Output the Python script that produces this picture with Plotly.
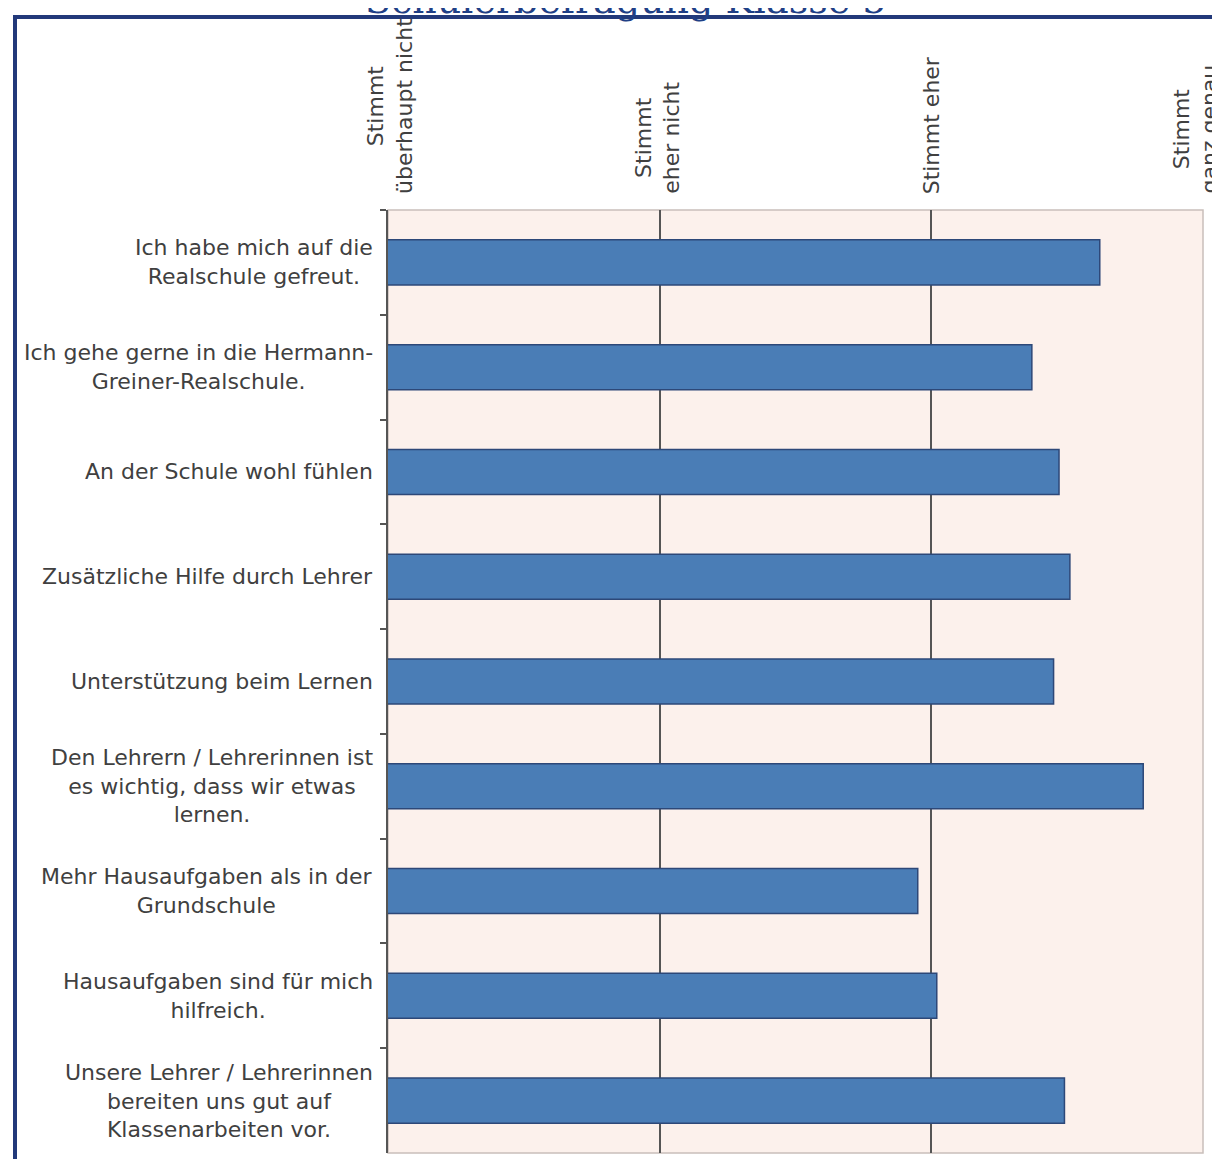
import plotly.graph_objects as go

title_text = "Schülerbefragung Klasse 5"

categories = [
    "Ich habe mich auf die<br>Realschule gefreut.",
    "Ich gehe gerne in die Hermann-<br>Greiner-Realschule.",
    "An der Schule wohl fühlen",
    "Zusätzliche Hilfe durch Lehrer",
    "Unterstützung beim Lernen",
    "Den Lehrern / Lehrerinnen ist<br>es wichtig, dass wir etwas<br>lernen.",
    "Mehr Hausaufgaben als in der<br>Grundschule",
    "Hausaufgaben sind für mich<br>hilfreich.",
    "Unsere Lehrer / Lehrerinnen<br>bereiten uns gut auf<br>Klassenarbeiten vor.",
]
values = [3.62, 3.37, 3.47, 3.51, 3.45, 3.78, 2.95, 3.02, 3.49]

scale_vals = [1, 2, 3, 4]
scale_labels = [
    "Stimmt<br>überhaupt nicht",
    "Stimmt<br>eher nicht",
    "Stimmt eher",
    "Stimmt<br>ganz genau",
]
scale_shift = [2, -2, 0, -8]

# page offset from default body margin
OFF = 8
W, H = 1212, 1151
# desired page coordinates of plot area
P_L, P_R, P_T, P_B = 388, 1203, 210, 1153
ML = P_L - OFF
MR = W - (P_R - OFF)
MT = P_T - OFF
MB = H - (P_B - OFF)
PW = W - ML - MR
PH = H - MT - MB

def px_x(px):
    return (px - P_L) / PW

def px_y(py):
    return (P_B - py) / PH

label_font = dict(family="DejaVu Sans", size=22, color="#404040")

fig = go.Figure()
fig.add_trace(go.Bar(
    x=values,
    y=categories,
    orientation="h",
    width=0.43,
    marker=dict(color="#4a7db6", line=dict(color="#2d4878", width=1.5)),
    showlegend=False,
))

annotations = []
for cat in categories:
    annotations.append(dict(
        x=px_x(375), xref="paper", y=cat, yref="y",
        text=cat, showarrow=False, xanchor="right", yanchor="middle",
        align="center", font=label_font,
    ))
for v, lab, sh in zip(scale_vals, scale_labels, scale_shift):
    annotations.append(dict(
        x=v, xref="x", y=px_y(196), yref="paper", xshift=sh,
        text=lab, showarrow=False, textangle=-90,
        xanchor="center", yanchor="bottom", align="center",
        font=label_font,
    ))
annotations.append(dict(
    x=px_x(625), xref="paper", y=px_y(0), yref="paper",
    text=title_text, showarrow=False, xanchor="center", yanchor="middle",
    font=dict(family="DejaVu Serif", size=38, color="#1f3f86"),
))

shapes = [
    dict(type="rect", xref="paper", yref="paper",
         x0=0, x1=1, y0=0, y1=1,
         line=dict(color="#c9bfba", width=1.5), layer="below"),
    dict(type="rect", xref="paper", yref="paper",
         x0=px_x(15), x1=px_x(1240), y0=px_y(1180), y1=px_y(17),
         line=dict(color="#22397a", width=4), layer="above"),
]

fig.update_layout(
    width=W, height=H,
    margin=dict(l=ML, r=MR, t=MT, b=MB),
    paper_bgcolor="white",
    plot_bgcolor="#fcf1ec",
    annotations=annotations,
    shapes=shapes,
    xaxis=dict(
        range=[1, 4], tickvals=[2, 3], showticklabels=False,
        showgrid=True, gridcolor="#555555", gridwidth=1.5,
        zeroline=False, showline=False, ticks="", fixedrange=True,
    ),
    yaxis=dict(
        autorange="reversed", showticklabels=False,
        showgrid=False, zeroline=False,
        showline=True, linecolor="#555555", linewidth=1.5,
        ticks="outside", ticklen=6, tickcolor="#555555", tickwidth=1.5,
        tickson="boundaries",
    ),
)

fig.write_html("out.html")
